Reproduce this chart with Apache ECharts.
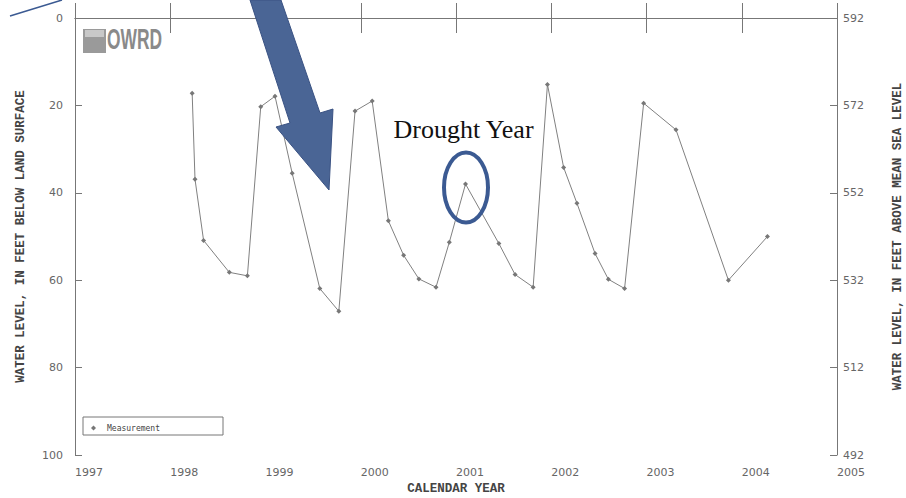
<!DOCTYPE html>
<html>
<head>
<meta charset="utf-8">
<script src="https://cdn.jsdelivr.net/npm/echarts@6/dist/echarts.min.js"></script>
<style>html,body{margin:0;padding:0;background:#fff}#c{width:906px;height:498px}</style>
</head>
<body>
<div id="c"></div>
<script>
// Measurement dates (decimal year) and depth to water (feet below land surface)
const dates = [1998.23, 1998.26, 1998.35, 1998.62, 1998.81, 1998.95, 1999.10, 1999.28, 1999.57, 1999.77,
               1999.94, 2000.12, 2000.29, 2000.45, 2000.61, 2000.79, 2000.93, 2001.10, 2001.45, 2001.62,
               2001.81, 2001.96, 2002.13, 2002.27, 2002.46, 2002.60, 2002.77, 2002.97, 2003.31, 2003.86, 2004.27];
const depths = [17.2, 36.9, 50.9, 58.2, 59.0, 20.3, 17.9, 35.5, 61.9, 67.1,
                21.3, 19.0, 46.4, 54.3, 59.7, 61.6, 51.3, 38.0, 51.6, 58.7,
                61.6, 15.2, 34.2, 42.4, 53.9, 59.8, 61.9, 19.5, 25.6, 60.0, 50.0];
const yearTicks = ['1997','1998','1999','2000','2001','2002','2003','2004','2005'];
const depthTicks = [0, 20, 40, 60, 80, 100];
const elevTicks = [492, 512, 532, 552, 572, 592];
const seriesName = 'Measurement';

const chart = echarts.init(document.getElementById('c'), null, {renderer: 'svg'});
const axisColor = '#777';
const labelColor = '#666';
const titleFont = {fontFamily: 'Liberation Mono', fontWeight: 'bold', fontSize: 12.5, color: '#444'};

chart.setOption({
  animation: false,
  backgroundColor: '#fff',
  grid: {left: 75, right: 69, top: 18, bottom: 43, containLabel: false, outerBoundsMode: 'none'},
  xAxis: [{
    type: 'value', min: 1997, max: 2005, interval: 1, position: 'bottom',
    axisLine: {lineStyle: {color: axisColor}},
    axisTick: {inside: true, length: 15, lineStyle: {color: axisColor}},
    axisLabel: {align: 'left', margin: 12, color: labelColor, fontFamily: 'DejaVu Sans', fontSize: 11,
      formatter: v => yearTicks[Math.round(v - 1997)]},
    splitLine: {show: false},
    name: 'CALENDAR YEAR', nameLocation: 'middle', nameGap: 26, nameTextStyle: titleFont
  }, {
    type: 'value', min: 1997, max: 2005, interval: 1, position: 'top',
    axisLine: {lineStyle: {color: axisColor}},
    axisTick: {inside: true, length: 15, lineStyle: {color: axisColor}},
    axisLabel: {show: false}, splitLine: {show: false}
  }],
  yAxis: [{
    type: 'value', min: 0, max: 100, interval: 20, inverse: true, position: 'left',
    axisLine: {show: true, lineStyle: {color: axisColor}},
    axisTick: {show: true, inside: true, length: 7, lineStyle: {color: axisColor}},
    axisLabel: {margin: 12, color: labelColor, fontFamily: 'DejaVu Sans', fontSize: 11,
      formatter: v => String(depthTicks[Math.round(v / 20)])},
    splitLine: {show: false},
    name: 'WATER LEVEL, IN FEET BELOW LAND SURFACE', nameLocation: 'middle', nameGap: 48, nameRotate: 90,
    nameTextStyle: titleFont
  }, {
    type: 'value', min: 492, max: 592, interval: 20, position: 'right',
    axisLine: {show: true, lineStyle: {color: axisColor}},
    axisTick: {show: true, inside: true, length: 7, lineStyle: {color: axisColor}},
    axisLabel: {margin: 6, color: labelColor, fontFamily: 'DejaVu Sans', fontSize: 11,
      formatter: v => String(elevTicks[Math.round((v - 492) / 20)])},
    splitLine: {show: false},
    name: 'WATER LEVEL, IN FEET ABOVE MEAN SEA LEVEL', nameLocation: 'middle', nameGap: 54, nameRotate: 90,
    nameTextStyle: titleFont
  }],
  legend: {
    left: 86, top: 419, icon: 'diamond', itemWidth: 5, itemHeight: 5, itemGap: 4,
    textStyle: {fontFamily: 'DejaVu Sans Mono', fontSize: 8, color: '#444', padding: [0, 0, 0, 6]},
    data: [seriesName]
  },
  series: [{
    name: seriesName, type: 'line', xAxisIndex: 0, yAxisIndex: 0,
    data: dates.map((d, i) => [d, depths[i]]),
    symbol: 'diamond', symbolSize: 5, showSymbol: true,
    lineStyle: {color: '#808080', width: 1},
    itemStyle: {color: '#777'}
  }],
  graphic: [
    {type: 'rect', shape: {x: 83, y: 417, width: 140, height: 18}, style: {fill: 'none', stroke: '#777', lineWidth: 1}, z: 1},
    {type: 'rect', shape: {x: 83, y: 29, width: 23, height: 24}, style: {fill: '#9a9a9a'}, z: 5},
    {type: 'rect', shape: {x: 85, y: 30, width: 19, height: 7}, style: {fill: '#c8c8c8'}, z: 6},
    {type: 'text', x: 107, y: 53, scaleX: 0.6, style: {text: 'OWRD', fontFamily: 'Liberation Sans', fontWeight: 'bold', fontSize: 29, fill: '#8a8a8a', verticalAlign: 'bottom'}, z: 5},
    {type: 'text', x: 463.5, y: 142, style: {text: 'Drought Year', fontFamily: 'Liberation Serif', fontSize: 26, fill: '#111', align: 'center', verticalAlign: 'bottom'}, z: 10},
    {type: 'ellipse', shape: {cx: 466, cy: 187.5, rx: 22, ry: 35}, style: {fill: 'none', stroke: '#3B5A92', lineWidth: 4}, z: 10},
    {type: 'polygon', shape: {points: [[250, 0], [281, 0], [320, 113], [333, 109], [329, 190], [276, 127], [290, 123]]},
      style: {fill: '#4A6595', stroke: '#3A5283', lineWidth: 1}, z: 12},
    {type: 'line', shape: {x1: 10, y1: 16, x2: 62, y2: 0}, style: {stroke: '#3B5A92', lineWidth: 1.5}, z: 12}
  ]
});
</script>
</body>
</html>
